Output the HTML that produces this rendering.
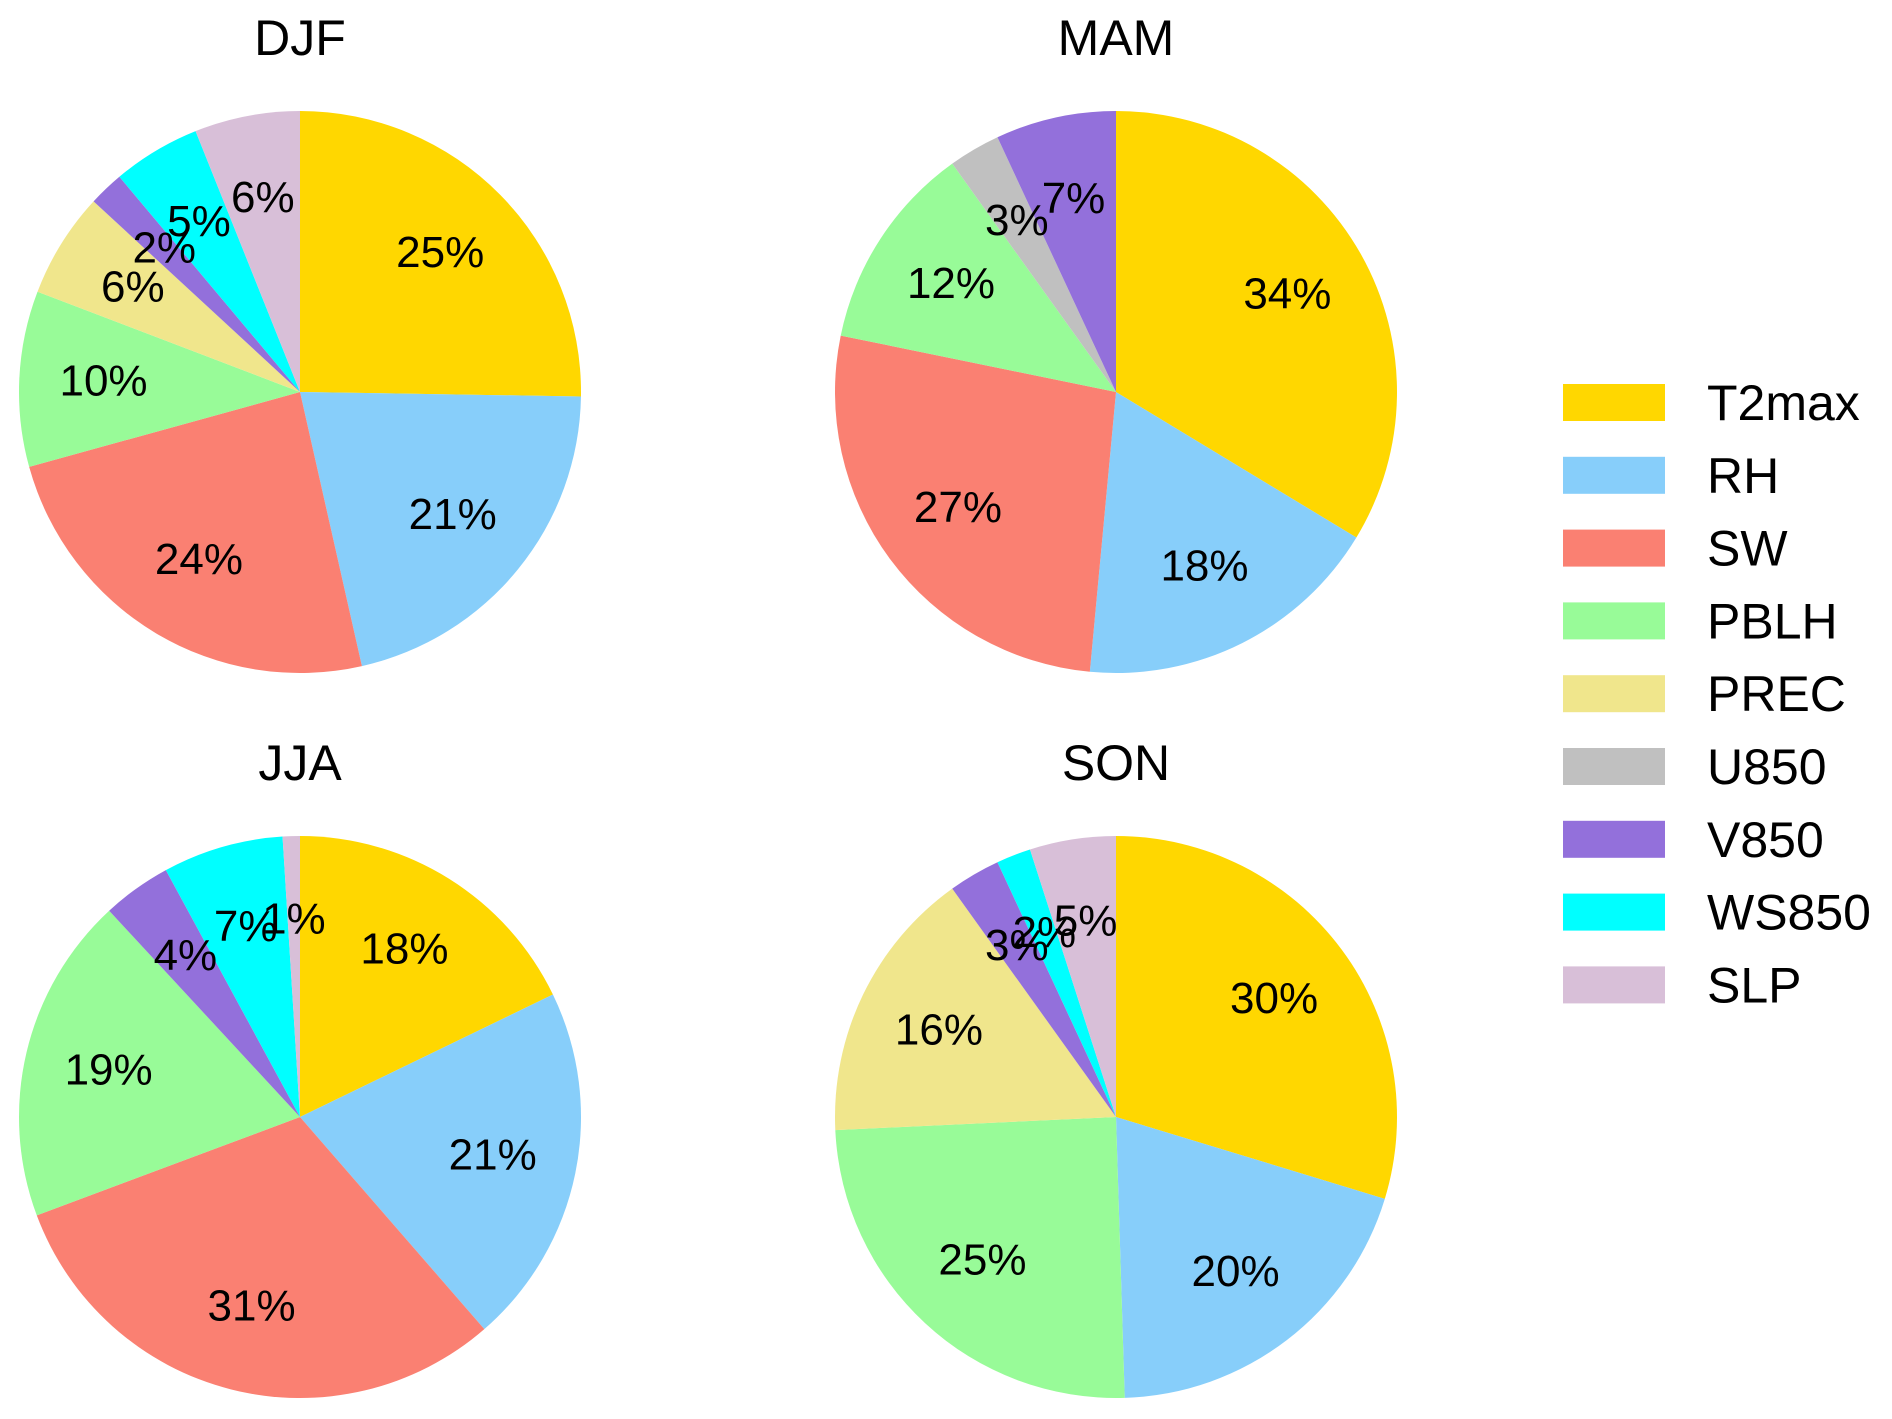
<!DOCTYPE html>
<html><head><meta charset="utf-8"><style>
html,body{margin:0;padding:0;background:#fff;}
svg{display:block;font-family:"Liberation Sans",Arial,sans-serif;}
</style></head><body>
<svg id="chart" width="1892" height="1419" viewBox="0 0 1892 1419"></svg>
<script>
const categories = ["T2max","RH","SW","PBLH","PREC","U850","V850","WS850","SLP"];
const colors = ["#FFD700","#87CEFA","#FA8072","#98FB98","#F0E68C","#C0C0C0","#9370DB","#00FFFF","#D8BFD8"];
const seasons = ["DJF","MAM","JJA","SON"];
const djfValues = [25,21,24,10,6,0,2,5,6];
const mamValues = [34,18,27,12,0,3,7,0,0];
const jjaValues = [18,21,31,19,0,0,4,7,1];
const sonValues = [30,20,0,25,16,0,3,2,5];
const seriesValues = [djfValues,mamValues,jjaValues,sonValues];

const NS = "http://www.w3.org/2000/svg";
const svg = document.getElementById("chart");
const centers = [[300,392],[1116,392],[300,1117],[1116,1117]];
const R = 281;

function mk(tag, attrs, parent){
  const e = document.createElementNS(NS, tag);
  for (const k in attrs) e.setAttribute(k, attrs[k]);
  (parent||svg).appendChild(e);
  return e;
}
function pt(cx, cy, r, frac){
  const a = frac*2*Math.PI;
  return [cx + r*Math.sin(a), cy - r*Math.cos(a)];
}

seasons.forEach((s, si) => {
  const [cx, cy] = centers[si];
  const vals = seriesValues[si];
  const total = vals.reduce((a,b)=>a+b,0);
  const g = mk("g", {});
  
  
  const t = mk("text", {x:cx, y:cy-R-56, "text-anchor":"middle", "font-size":"50"}, g);
  t.textContent = s;
  
  
  let acc = 0;
  vals.forEach((v, i) => {
    if (v <= 0) return;
    const f0 = acc/total, f1 = (acc+v)/total;
    acc += v;
    const p0 = pt(cx,cy,R,f0), p1 = pt(cx,cy,R,f1);
    const large = (f1-f0) > 0.5 ? 1 : 0;
    const path = mk("path", {d:`M${cx},${cy} L${p0[0]},${p0[1]} A${R},${R} 0 ${large} 1 ${p1[0]},${p1[1]} Z`, fill:colors[i]}, g);
    
    
  });
  acc = 0;
  vals.forEach((v, i) => {
    if (v <= 0) return;
    const fm = (acc + v/2)/total;
    acc += v;
    const p = pt(cx,cy,R*0.7,fm);
    const lt = mk("text", {x:p[0], y:p[1]+13, "text-anchor":"middle", "font-size":"44"}, g);
    lt.textContent = v + "%";
    
    
  });
});

const lg = mk("g", {});


categories.forEach((c, i) => {
  const y = 384 + i*72.8;
  const r = mk("rect", {x:1563, y:y, width:102, height:37, fill:colors[i]}, lg);
  
  
  const t = mk("text", {x:1707, y:y+36, "font-size":"50"}, lg);
  t.textContent = c;
  
  
});
</script>
</body></html>
